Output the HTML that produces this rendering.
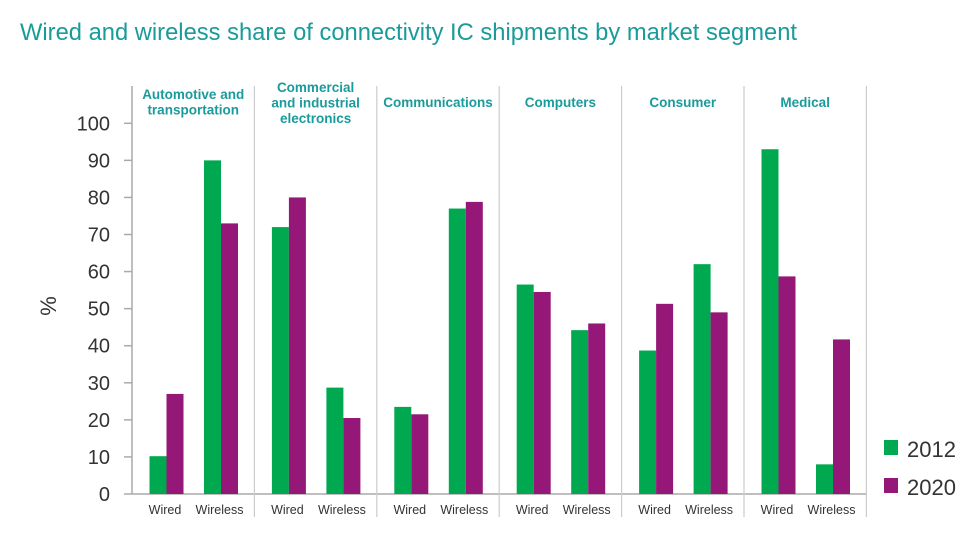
<!DOCTYPE html>
<html><head><meta charset="utf-8">
<style>
body{margin:0;background:#fff;}
svg{display:block;font-family:"Liberation Sans",sans-serif;}
</style></head>
<body>
<svg id="chart" width="966" height="537">
<text x="20" y="40" font-size="24" textLength="777" lengthAdjust="spacingAndGlyphs" fill="#1a9b9b">Wired and wireless share of connectivity IC shipments by market segment</text>
<g id="axes"></g>
<g id="bars"></g>
<text transform="translate(56,306) rotate(-90)" font-size="22" fill="#333" text-anchor="middle">%</text>
<rect x="884" y="440" width="14" height="15" fill="#00a84f"/>
<text x="907" y="457" font-size="22" fill="#333">2012</text>
<rect x="884" y="478" width="14" height="15" fill="#951777"/>
<text x="907" y="495" font-size="22" fill="#333">2020</text>
</svg>
<script>
const segments=["Automotive and|transportation","Commercial|and industrial|electronics","Communications","Computers","Consumer","Medical"];
const subCats=["Wired","Wireless"];
const v2012=[10.2,90,72,28.7,23.5,77,56.5,44.2,38.7,62,93,8];
const v2020=[27,73,80,20.5,21.5,78.8,54.5,46,51.3,49,58.7,41.7];
const yTicks=[0,10,20,30,40,50,60,70,80,90,100];

const NS="http://www.w3.org/2000/svg";
const x0=132,gw=122.4,y0=494,yTop=123.3;
const y=v=>y0-(y0-yTop)*v/100;
const axes=document.getElementById('axes'),bars=document.getElementById('bars');
function mk(tag,attrs,parent,txt){const e=document.createElementNS(NS,tag);for(const k in attrs)e.setAttribute(k,attrs[k]);if(txt!=null)e.textContent=txt;parent.appendChild(e);return e;}
let e=mk('line',{x1:x0,y1:86,x2:x0,y2:y0,stroke:'#aaa','stroke-width':1.5},axes);


e=mk('line',{x1:x0,y1:y0,x2:x0+gw*6,y2:y0,stroke:'#aaa','stroke-width':1.5},axes);


yTicks.forEach(t=>{
  let l=mk('line',{x1:124,y1:y(t),x2:x0,y2:y(t),stroke:'#aaa','stroke-width':1.5},axes);
  
  
  let tx=mk('text',{x:110,y:y(t)+7,'font-size':20,fill:'#333','text-anchor':'end'},axes,t);
  
  
});
segments.forEach((s,g)=>{
  const gx=x0+g*gw;
  let sep=mk('line',{x1:gx+gw,y1:86,x2:gx+gw,y2:517,stroke:'#ccc','stroke-width':1.2},axes);
  
  
  const lines=s.split('|');
  const startY=lines.length===3?92:(lines.length===2?99:107);
  lines.forEach((ln,i)=>{
    let t=mk('text',{x:gx+gw/2,y:startY+i*15.5,'font-size':13.5,'font-weight':'bold',fill:'#1a9b9b','text-anchor':'middle'},axes,ln);
    
    
  });
  subCats.forEach((c,j)=>{
    const idx=g*2+j;
    const bx=gx+(j===0?17.5:72);
    let b1=mk('rect',{x:bx,y:y(v2012[idx]),width:17,height:y0-y(v2012[idx]),fill:'#00a84f'},bars);
    
    
    let b2=mk('rect',{x:bx+17,y:y(v2020[idx]),width:17,height:y0-y(v2020[idx]),fill:'#951777'},bars);
    
    
    let cl=mk('text',{x:bx+15.5,y:514,'font-size':12.5,fill:'#333','text-anchor':'middle'},axes,c);
    
    
  });
});
</script>
</body></html>
